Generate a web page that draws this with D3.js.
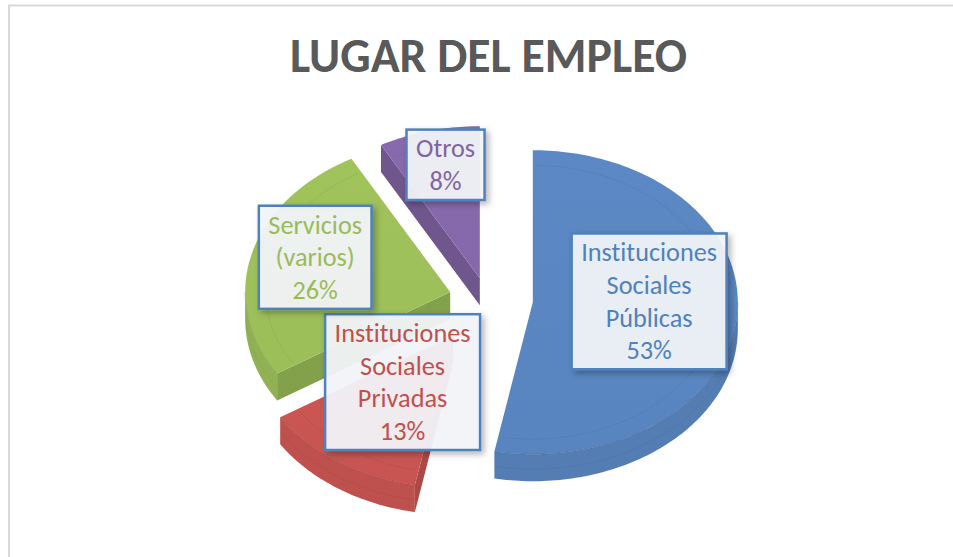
<!DOCTYPE html>
<html>
<head>
<meta charset="utf-8">
<script src="https://cdn.jsdelivr.net/npm/d3@7"></script>
<style>
html,body{margin:0;padding:0;background:#fff;}
svg{display:block;}
text{font-variant-ligatures:none;font-feature-settings:"liga" 0;}
</style>
</head>
<body>
<svg id="chart" width="953" height="557"></svg>
<script>
// ---- data ----
const title = "LUGAR DEL EMPLEO";
const categories = ["Instituciones Sociales Públicas", "Instituciones Sociales Privadas", "Servicios (varios)", "Otros"];
const labelLines = [["Instituciones", "Sociales", "Públicas"], ["Instituciones", "Sociales", "Privadas"], ["Servicios", "(varios)"], ["Otros"]];
const values = [53, 13, 26, 8];
const percentLabels = ["53%", "13%", "26%", "8%"];

// ---- style ----
const colors = ["#5A87C2", "#CD5753", "#9DC05A", "#8568AA"];
const textColors = ["#4F81BD", "#C0504D", "#9BBB59", "#8064A2"];
const explode = [46, 60, 38, 29];
const labelR = [0.57, 0.44, 0.68, 0.77];
const labelDx = [0, 0, 0, 5];
const labelDy = [-9, -9, -9, 0];
const cx = 487, cy = 299, rx = 205, ry = 152, thick = 27;
const ky = ry / rx;

const svg = d3.select("#chart");
const defs = svg.append("defs");
const f = defs.append("filter").attr("id", "sh").attr("x", "-20%").attr("y", "-20%").attr("width", "150%").attr("height", "150%");
f.append("feDropShadow").attr("dx", 3).attr("dy", 3).attr("stdDeviation", 3).attr("flood-color", "#000").attr("flood-opacity", 0.3);

// chart border
svg.append("rect").attr("x", 9).attr("y", 5.5).attr("width", 1000).attr("height", 600)
  .attr("fill", "none").attr("stroke", "#d9d9d9").attr("stroke-width", 2);

// title
const tt = svg.append("text").text(title)
  .attr("x", 488.5).attr("y", 72).attr("text-anchor", "middle")
  .attr("font-family", "Carlito, Lato, 'Open Sans', sans-serif").attr("font-weight", "bold")
  .attr("font-size", 44).attr("fill", "#595959");
{
  const w = tt.node().getComputedTextLength();
  tt.attr("font-size", 44 * 397 / w);
}

const pie = d3.pie().sort(null).value(d => d);
const arcs = pie(values).map((a, i) => {
  const mid = (a.startAngle + a.endAngle) / 2;
  const vx = cx + explode[i] * Math.sin(mid);
  const vy = cy - explode[i] * Math.cos(mid) * ky;
  return {a, i, mid, vx, vy};
});

function P(s, ang, r, dz) {
  return [s.vx + rx * r * Math.sin(ang), s.vy - ry * r * Math.cos(ang) + (dz || 0)];
}
function arcPts(s, a0, a1, r, dz) {
  const n = Math.max(2, Math.ceil((a1 - a0) / 0.02));
  const pts = [];
  for (let k = 0; k <= n; k++) pts.push(P(s, a0 + (a1 - a0) * k / n, r, dz));
  return pts;
}
const line = d3.line();

// painter's order: back to front
const order = arcs.slice().sort((p, q) => Math.cos(q.mid) - Math.cos(p.mid));

order.forEach(s => {
  const i = s.i, a0 = s.a.startAngle, a1 = s.a.endAngle;
  const base = d3.color(colors[i]);
  const side = base.darker(0.22).formatHex();
  const side2 = base.darker(0.5).formatHex();
  const edge = base.darker(0.8).formatHex();
  const g = svg.append("g");

  const gid = "gt" + i;
  const lg = defs.append("linearGradient").attr("id", gid)
    .attr("gradientUnits", "userSpaceOnUse")
    .attr("x1", 0).attr("y1", cy - ry).attr("x2", 0).attr("y2", cy + ry);
  lg.append("stop").attr("offset", 0).attr("stop-color", base.brighter(0.05).formatHex());
  lg.append("stop").attr("offset", 1).attr("stop-color", base.darker(0.05).formatHex());

  const faceAt = (ang) => {
    const V = [s.vx, s.vy], R = P(s, ang, 1);
    return [V, R, [R[0], R[1] + thick], [V[0], V[1] + thick]];
  };
  if (Math.sin(a0) < -1e-6) g.append("path").attr("d", line(faceAt(a0)) + "Z").attr("fill", side2);
  if (Math.sin(a1) > 1e-6) g.append("path").attr("d", line(faceAt(a1)) + "Z").attr("fill", side2);

  const w0 = Math.max(a0, Math.PI / 2), w1 = Math.min(a1, 3 * Math.PI / 2);
  if (w1 > w0) {
    const top = arcPts(s, w0, w1, 1, 0);
    const bot = arcPts(s, w0, w1, 1, thick).reverse();
    g.append("path").attr("d", line(top.concat(bot)) + "Z").attr("fill", side);
    g.append("path").attr("d", line(arcPts(s, w0, w1, 1, thick * 0.55)))
      .attr("fill", "none").attr("stroke", edge).attr("stroke-opacity", 0.2).attr("stroke-width", 1);
  }

  const topPts = [[s.vx, s.vy]].concat(arcPts(s, a0, a1, 1, 0));
  g.append("path").attr("d", line(topPts) + "Z").attr("fill", "url(#" + gid + ")");
  // edge between top and wall
  if (w1 > w0) {
    g.append("path").attr("d", line(arcPts(s, w0, w1, 1, 0)))
      .attr("fill", "none").attr("stroke", edge).attr("stroke-opacity", 0.45).attr("stroke-width", 1);
  }
  // faint bevel line
  g.append("path").attr("d", line(arcPts(s, a0 + 0.02, a1 - 0.02, 0.9, 0)))
    .attr("fill", "none").attr("stroke", edge).attr("stroke-opacity", 0.2).attr("stroke-width", 1);
});

// labels
const fontFam = "Carlito, Lato, 'Open Sans', sans-serif";
const probe = svg.append("text").text("Instituciones").attr("font-family", fontFam).attr("font-size", 24);
const fs = 24 * 136 / probe.node().getComputedTextLength();
probe.remove();
const lh = 32.7;

arcs.forEach(s => {
  const i = s.i;
  const lines = labelLines[i].concat([percentLabels[i]]);
  const c = P(s, s.mid, labelR[i]);
  const lx = c[0] + labelDx[i], ly = c[1] + labelDy[i];
  const g = svg.append("g");
  const txt = g.append("text").attr("font-family", fontFam).attr("font-size", fs)
    .attr("fill", textColors[i]).attr("text-anchor", "middle");
  lines.forEach((t, k) => {
    txt.append("tspan").attr("x", lx).attr("y", ly + (k - (lines.length - 1) / 2) * lh)
      .attr("dominant-baseline", "central").text(t);
  });
  const bw = d3.max(txt.selectAll("tspan").nodes(), n => n.getComputedTextLength()) + 19;
  const bh = lines.length * lh + 5;
  g.insert("rect", "text")
    .attr("x", lx - bw / 2).attr("y", ly - bh / 2).attr("width", bw).attr("height", bh)
    .attr("fill", "#F3F5F9").attr("fill-opacity", 0.93)
    .attr("stroke", "#4F81BD").attr("stroke-width", 2.5)
    .attr("filter", "url(#sh)");
});
</script>
</body>
</html>
